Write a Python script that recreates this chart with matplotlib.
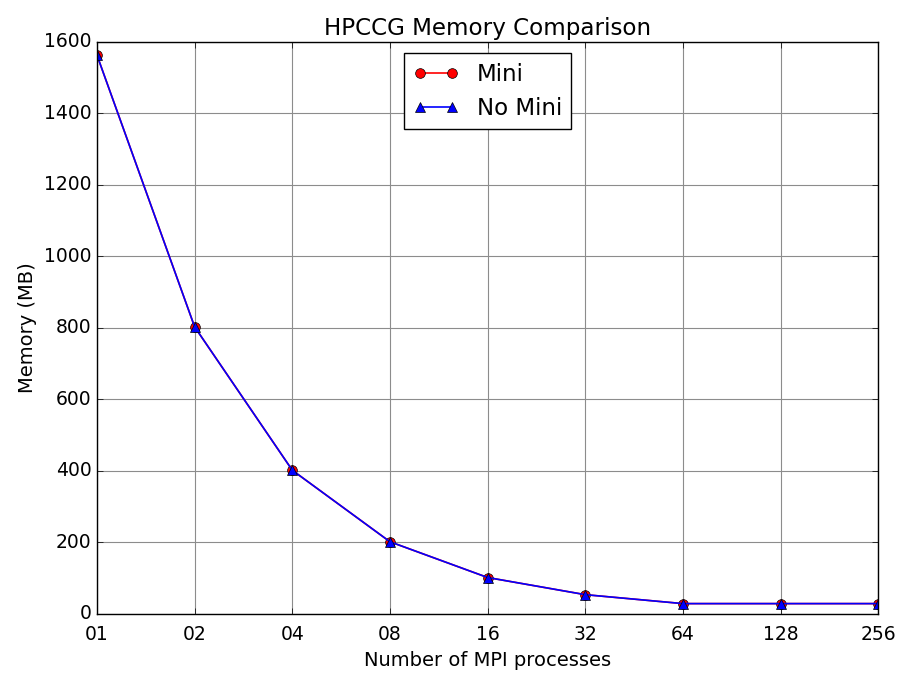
import matplotlib
matplotlib.use("Agg")
import matplotlib.pyplot as plt
import numpy as np

processes = ["01", "02", "04", "08", "16", "32", "64", "128", "256"]
mem_mini = [1563, 803, 402, 202, 102, 54, 29, 29, 29]
mem_nomini = [1563, 803, 402, 202, 102, 54, 29, 29, 29]


def plot():
    plt.style.use("classic")
    fig = plt.figure(figsize=(8.98, 6.73), dpi=100, facecolor="white")
    ax = fig.add_axes([0.108, 0.0877, 0.870, 0.850])
    x = np.arange(len(processes))
    ax.plot(x, mem_mini, "ro-", markersize=7, linewidth=1.2, label="Mini")
    ax.plot(x, mem_nomini, "b^-", markersize=7, linewidth=1.2,
            label="No Mini")
    ax.set_xlim(0, len(processes) - 1)
    ax.set_ylim(0, 1600)
    ax.set_xticks(x)
    ax.set_xticklabels(processes)
    ax.set_yticks(range(0, 1601, 200))
    ax.tick_params(labelsize=13.5)
    ax.tick_params(axis="x", pad=8)
    ax.grid(True, color="#8c8c8c", linestyle="-", linewidth=0.8)
    ax.set_axisbelow(True)
    ax.set_title("HPCCG Memory Comparison", fontsize=16.6)
    ax.set_xlabel("Number of MPI processes", fontsize=14)
    ax.set_ylabel("Memory (MB)", fontsize=14)
    leg = ax.legend(loc="upper center", fontsize=16.5, numpoints=2,
                    fancybox=False, shadow=False)
    leg.get_frame().set_edgecolor("black")
    fig.savefig("out.png", dpi=100, facecolor="white")


def main():
    plot()


if __name__ == "__main__":
    main()
